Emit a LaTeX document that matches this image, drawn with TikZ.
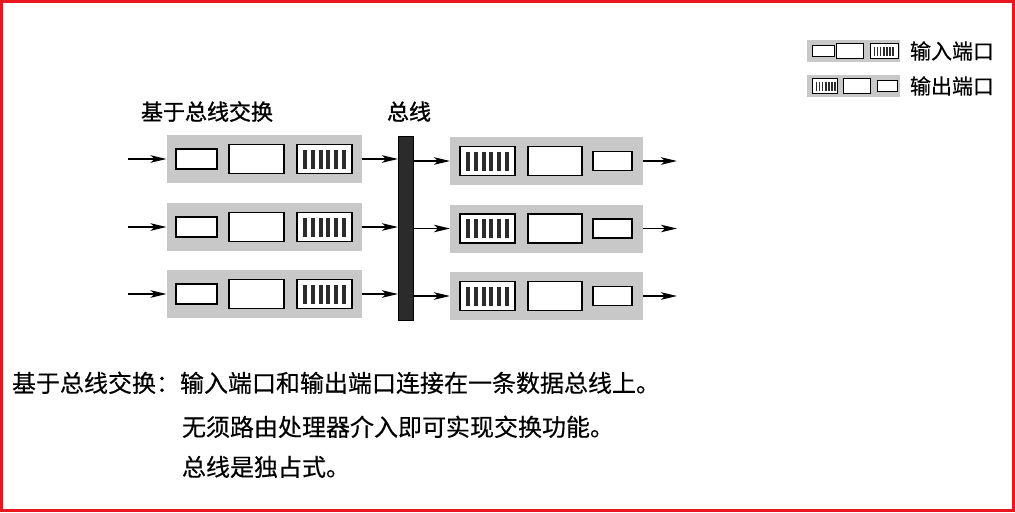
\documentclass[tikz,border=0pt]{standalone}
\usepackage{fontspec}
\usetikzlibrary{arrows.meta}
\newfontfamily\cjk[FakeBold=0.4]{Noto Sans CJK SC}
\newfontfamily\cjkheavy[FakeBold=1.2]{Noto Sans CJK SC}
\definecolor{portgray}{HTML}{C8C8C8}
\definecolor{busink}{HTML}{2B2B2B}
\definecolor{frameink}{HTML}{E8161E}

\begin{document}
\begin{tikzpicture}[
  x=1pt,
  y=-1pt,
  every node/.style={font={\cjk\fontsize{24pt}{28pt}\selectfont}, inner sep=0pt, outer sep=0pt},
  label/.style={font={\cjkheavy\fontsize{22pt}{26pt}\selectfont}},
  keytext/.style={font={\cjk\fontsize{21pt}{25pt}\selectfont}},
  portbox/.style={fill=portgray, minimum width=195pt, minimum height=48pt},
  buffer/.style={draw, fill=white, line width=1.3pt},
  queuebox/.style={buffer, minimum width=55pt, minimum height=29pt,
    path picture={
      \foreach \k in {0,...,5}
        \fill[busink] ([xshift={6pt+\k*7.8pt}, yshift=-5pt]path picture bounding box.north west)
          rectangle ++(4pt,-19pt);
    }},
  keyqueue/.style={buffer, line width=1pt, minimum width=28pt, minimum height=15pt,
    path picture={
      \foreach \k in {0,...,6}
        \fill[busink] ([xshift={3.5pt+\k*3.1pt}, yshift=-3pt]path picture bounding box.north west)
          rectangle ++(1.7pt,-9pt);
    }},
  flow/.style={-{Stealth[length=16pt, width=7.5pt, inset=4pt]}, line width=1.6pt}
]
  \useasboundingbox (0,0) rectangle (1015,512);
  \draw[frameink, line width=3pt] (1.5,1.5) rectangle (1013.5,510.5);

  \node[fill=busink, draw=black, minimum width=15pt, minimum height=184pt] (bus) at (405.5,228) {};

  \foreach \r/\y/\yy in {1/159/161, 2/227/228.5, 3/294/296} {
    \node[portbox] (inport\r) at (264,\y) {};
    \node[buffer, minimum width=41pt, minimum height=20pt] (inshort\r) at (196.5,\y) {};
    \node[buffer, minimum width=55pt, minimum height=29pt] (inmid\r) at (256.5,\y) {};
    \node[queuebox] (inqueue\r) at (324.5,\y) {};
    \coordinate (src\r) at (128,\y);
    \draw[flow] (src\r) -- (inport\r);
    \draw[flow] (inport\r) -- (inport\r -| bus.west);

    \node[portbox, minimum width=193pt] (outport\r) at (546.5,\yy) {};
    \node[queuebox] (outqueue\r) at (487.5,\yy) {};
    \node[buffer, minimum width=54pt, minimum height=29pt] (outmid\r) at (555,\yy) {};
    \node[buffer, minimum width=39pt, minimum height=19pt] (outshort\r) at (612.5,\yy) {};
    \coordinate (sink\r) at (677,\yy);
    \draw[flow] (outport\r -| bus.east) -- (outport\r);
    \draw[flow] (outport\r) -- (sink\r);
  }

  \node[label, anchor=base] (title) at (207,120) {基于总线交换};
  \node[label, anchor=base] (buslabel) at (409,120) {总线};

  \node[portbox, minimum width=93pt, minimum height=22pt] (keyin) at (853.5,51) {};
  \node[buffer, line width=1pt, minimum width=22pt, minimum height=11pt] (keyinshort) at (823,51) {};
  \node[buffer, line width=1pt, minimum width=27pt, minimum height=15pt] (keyinmid) at (850,51) {};
  \node[keyqueue] (keyinqueue) at (884,51) {};
  \node[keytext, anchor=base west] (keyintext) at (910,59) {输入端口};

  \node[portbox, minimum width=93pt, minimum height=22pt] (keyout) at (853.5,86) {};
  \node[keyqueue, minimum width=25pt] (keyoutqueue) at (824.5,86) {};
  \node[buffer, line width=1pt, minimum width=27pt, minimum height=15pt] (keyoutmid) at (856.5,86) {};
  \node[buffer, line width=1pt, minimum width=20pt, minimum height=11pt] (keyoutshort) at (887,86) {};
  \node[keytext, anchor=base west] (keyouttext) at (910,94) {输出端口};

  \node[anchor=base west] (line1) at (12,392) {基于总线交换：输入端口和输出端口连接在一条数据总线上。};
  \node[anchor=base west] (line2) at (182,436) {无须路由处理器介入即可实现交换功能。};
  \node[anchor=base west] (line3) at (182,476) {总线是独占式。};
\end{tikzpicture}
\end{document}
